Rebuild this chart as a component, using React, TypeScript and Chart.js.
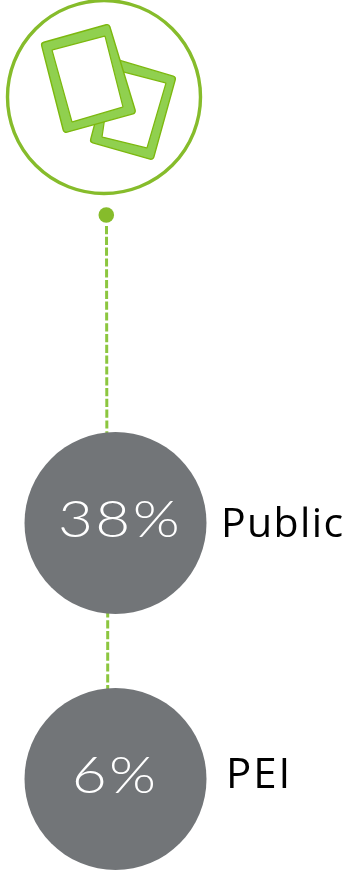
import { useEffect, useRef } from "react";
import { Chart, registerables } from "chart.js";

Chart.register(...registerables);

const categories = ["Public", "PEI"];
const shares = [38, 6];

const WIDTH = 347;
const HEIGHT = 871;
const BUBBLE_X = 115.5;
const BUBBLE_RADIUS = 91;
const GREY = "#727578";
const GREEN = "#86bc2b";
const GREEN_DASH = "#8cc63f";
const SHEET_FILL = "#90d04f";
const SHEET_EDGE = "#7cb80e";

const shareLabelStyle = [
  { x: 120, baseline: 537, size: 52, stretch: 1.16, spacing: "2px" },
  { x: 115, baseline: 793, size: 52, stretch: 1.16, spacing: "2px" },
];
const nameLabelStyle = [
  { x: 221, baseline: 537, size: 41, spacing: "1.4px" },
  { x: 226, baseline: 788, size: 42, spacing: "2px" },
];

type Pt = [number, number];

function polygon(ctx: CanvasRenderingContext2D, pts: Pt[], radius: number) {
  ctx.beginPath();
  const n = pts.length;
  const last = pts[n - 1];
  const first = pts[0];
  ctx.moveTo((last[0] + first[0]) / 2, (last[1] + first[1]) / 2);
  for (let i = 0; i < n; i++) {
    const a = pts[i];
    const b = pts[(i + 1) % n];
    ctx.arcTo(a[0], a[1], (a[0] + b[0]) / 2, (a[1] + b[1]) / 2, radius);
  }
  ctx.closePath();
}

function sheet(ctx: CanvasRenderingContext2D, outer: Pt[], inner: Pt[]) {
  polygon(ctx, outer, 3);
  ctx.fillStyle = SHEET_FILL;
  ctx.fill();
  ctx.strokeStyle = SHEET_EDGE;
  ctx.lineWidth = 1.4;
  ctx.stroke();
  polygon(ctx, inner, 0.5);
  ctx.fillStyle = "#ffffff";
  ctx.fill();
  ctx.lineWidth = 1.2;
  ctx.stroke();
}

function dashedLine(ctx: CanvasRenderingContext2D, x0: number, y0: number, x1: number, y1: number) {
  ctx.save();
  ctx.beginPath();
  ctx.setLineDash([8.2, 2.6]);
  ctx.lineWidth = 3;
  ctx.strokeStyle = GREEN_DASH;
  ctx.moveTo(x0, y0);
  ctx.lineTo(x1, y1);
  ctx.stroke();
  ctx.restore();
}

// Connectors and the document badge sit underneath the bubbles.
const backdrop = {
  id: "backdrop",
  beforeDatasetsDraw(chart: Chart) {
    const { ctx, scales } = chart;
    const publicY = scales.y.getPixelForValue(0);
    const peiY = scales.y.getPixelForValue(1);

    ctx.save();
    ctx.beginPath();
    ctx.arc(104, 97, 96.5, 0, Math.PI * 2);
    ctx.lineWidth = 3.4;
    ctx.strokeStyle = GREEN;
    ctx.stroke();

    sheet(
      ctx,
      [[112, 58], [176, 77], [153, 160], [90, 142]],
      [[112, 69], [166, 83], [147, 148], [102, 137]],
    );
    sheet(
      ctx,
      [[41, 43], [109, 24], [136, 113], [64, 133]],
      [[52, 50], [105, 36], [123, 107], [72, 122]],
    );

    ctx.beginPath();
    ctx.arc(106.3, 215, 7.8, 0, Math.PI * 2);
    ctx.fillStyle = GREEN;
    ctx.fill();

    dashedLine(ctx, 106.5, 226, 107, publicY);
    dashedLine(ctx, 107.7, publicY, 107.7, peiY);
    ctx.restore();
  },
  afterDatasetsDraw(chart: Chart) {
    const { ctx } = chart;
    ctx.save();
    ctx.textBaseline = "alphabetic";
    shares.forEach((share, i) => {
      const s = shareLabelStyle[i];
      ctx.save();
      ctx.font = `300 ${s.size}px Lato`;
      ctx.fillStyle = "#ffffff";
      ctx.textAlign = "center";
      ctx.letterSpacing = s.spacing;
      ctx.translate(s.x, s.baseline);
      ctx.scale(s.stretch, 1);
      ctx.fillText(`${share}%`, 0, 0);
      ctx.restore();

      const n = nameLabelStyle[i];
      ctx.font = `400 ${n.size}px "Open Sans"`;
      ctx.fillStyle = "#000000";
      ctx.textAlign = "left";
      ctx.letterSpacing = n.spacing;
      ctx.fillText(categories[i], n.x, n.baseline);
    });
    ctx.restore();
  },
};

export default function App() {
  const ref = useRef<HTMLCanvasElement>(null);

  useEffect(() => {
    document.body.style.margin = "0";
    const canvas = ref.current;
    if (!canvas) return;
    const chart = new Chart(canvas, {
      type: "scatter",
      data: {
        labels: categories,
        datasets: [
          {
            data: categories.map((c) => ({ x: BUBBLE_X, y: c })),
            pointRadius: BUBBLE_RADIUS,
            pointHoverRadius: BUBBLE_RADIUS,
            pointBackgroundColor: GREY,
            pointBorderWidth: 0,
            clip: false,
          },
        ],
      } as any,
      options: {
        animation: false,
        responsive: false,
        events: [],
        layout: {
          autoPadding: false,
          padding: { top: 523, bottom: HEIGHT - 779, left: 0, right: 0 },
        },
        plugins: { legend: { display: false }, tooltip: { enabled: false } },
        scales: {
          x: { type: "linear", min: 0, max: WIDTH, display: false },
          y: { type: "category", labels: categories, offset: false, display: false },
        },
      },
      plugins: [backdrop],
    });
    return () => chart.destroy();
  }, []);

  return (
    <canvas
      ref={ref}
      width={WIDTH}
      height={HEIGHT}
      style={{ display: "block", width: WIDTH, height: HEIGHT }}
    />
  );
}
